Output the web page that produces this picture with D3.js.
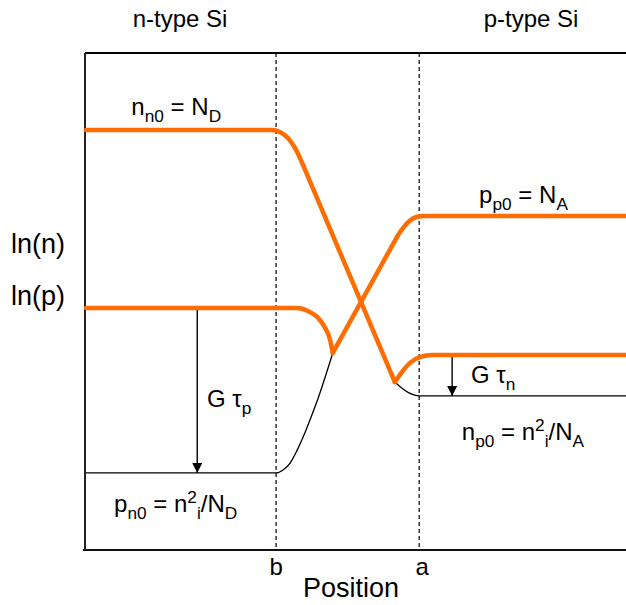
<!DOCTYPE html>
<html>
<head>
<meta charset="utf-8">
<script src="https://cdn.jsdelivr.net/npm/d3@7"></script>
<style>
  html, body { margin: 0; padding: 0; background: #fff; }
  svg { display: block; font-family: "Liberation Sans", Arial, sans-serif; }
</style>
</head>
<body>
<svg id="chart" width="626" height="605"></svg>
<script>
// ---- Data (abstract units: position 0..10, ln(concentration) 0..20) ----
const junctionB = 3.52;   // depletion edge on n-side
const junctionA = 6.17;   // depletion edge on p-side
const xEnd = 10;

// electrons n(x) under generation (orange)
const nCorner = [[0,16.90],[3.44,16.90],[3.59,16.82],[3.74,16.58],[3.89,16.10],[4.02,15.49]];
const nFall   = [[4.02,15.49],[5.72,6.76]];
const nRise   = [[5.72,6.76],[5.85,7.16],[6.00,7.53],[6.19,7.77],[6.41,7.85],[10,7.85]];
// electrons in equilibrium on p side (black)
const nEquil  = [[5.72,6.76],[5.87,6.48],[6.02,6.28],[6.17,6.20],[10,6.20]];

// holes p(x) under generation (orange)
const pLeft   = [[0,9.74],[3.91,9.74],[4.11,9.62],[4.28,9.38],[4.41,9.01],[4.52,8.45],[4.57,7.93]];
const pRiseLine = [[4.57,7.93],[5.76,12.60]];
const pTop    = [[5.76,12.60],[5.88,12.98],[6.00,13.26],[6.12,13.40],[6.25,13.44],[10,13.44]];
// holes in equilibrium on n side (black)
const pEquil  = [[0,3.10],[3.52,3.10],[3.65,3.22],[3.78,3.50],[3.91,4.02],[4.06,4.75],[4.19,5.47],[4.30,6.12],[4.57,7.93]];

// generation arrows: [x, from, to]
const genArrows = [[2.06,9.74,3.10],[6.78,7.85,6.20]];

// ---- Scales ----
const svg = d3.select("#chart");
const x = d3.scaleLinear().domain([0, xEnd]).range([86, 626]);
const y = d3.scaleLinear().domain([0, 20]).range([550, 53]);

const line = d3.line().x(d => x(d[0])).y(d => y(d[1])).curve(d3.curveMonotoneX);

const ORANGE = "#ff6c00";

// frame
svg.append("line").attr("x1", x(0)-1).attr("x2", 626).attr("y1", y(20)).attr("y2", y(20))
  .attr("stroke", "#000").attr("stroke-width", 2);
svg.append("line").attr("x1", x(0)-3).attr("x2", 626).attr("y1", y(0)).attr("y2", y(0))
  .attr("stroke", "#111").attr("stroke-width", 2);
svg.append("line").attr("x1", x(0)-1).attr("x2", x(0)-1).attr("y1", y(20)).attr("y2", y(0))
  .attr("stroke", "#222").attr("stroke-width", 2);

// dashed junction edges
[junctionB, junctionA].forEach(v => {
  svg.append("line").attr("x1", x(v)).attr("x2", x(v)).attr("y1", y(20)).attr("y2", y(0))
    .attr("stroke", "#000").attr("stroke-width", 1.2).attr("stroke-dasharray", "4,3");
});

// equilibrium (black thin) curves
[nEquil, pEquil].forEach(pts => {
  svg.append("path").attr("d", line(pts)).attr("fill", "none")
    .attr("stroke", "#000").attr("stroke-width", 1.3);
});

// arrows
const defs = svg.append("defs");
defs.append("marker").attr("id", "head").attr("viewBox", "0 0 10 10")
  .attr("refX", 10).attr("refY", 5).attr("markerWidth", 10).attr("markerHeight", 10)
  .attr("markerUnits", "userSpaceOnUse").attr("orient", "auto")
  .append("path").attr("d", "M0,0 L10,5 L0,10 Z").attr("fill", "#000");
genArrows.forEach(a => {
  svg.append("line").attr("x1", x(a[0])).attr("x2", x(a[0]))
    .attr("y1", y(a[1])).attr("y2", y(a[2]))
    .attr("stroke", "#000").attr("stroke-width", 1.4).attr("marker-end", "url(#head)");
});

// orange curves
[nCorner, nFall, nRise, pLeft, pRiseLine, pTop].forEach(pts => {
  svg.append("path").attr("d", line(pts)).attr("fill", "none")
    .attr("stroke", ORANGE).attr("stroke-width", 4.5)
    .attr("stroke-linecap", "round").attr("stroke-linejoin", "round");
});

// ---- Text ----
function label(px, py, parts, size, anchor) {
  const t = svg.append("text").attr("x", px).attr("y", py)
    .attr("font-size", size).attr("fill", "#000").attr("text-anchor", anchor || "start");
  parts.forEach(p => {
    const ts = t.append("tspan").text(p.t);
    if (p.sub) { ts.attr("font-size", size*0.72).attr("dy", size*0.28); }
    else if (p.sup) { ts.attr("font-size", size*0.72).attr("dy", -size*0.38); }
    if (p.back) ts.attr("dy", p.back);
  });
  return t;
}
const fs = 24;
label(180, 27, [{t:"n-type Si"}], fs, "middle");
label(531, 27, [{t:"p-type Si"}], fs, "middle");
label(11, 253, [{t:"ln(n)"}], 27);
label(11, 305, [{t:"ln(p)"}], 27);

label(x(0.84), y(17.5), [{t:"n"},{t:"n0",sub:true},{t:" = N", back: -fs*0.28},{t:"D",sub:true}], fs);
label(x(7.28), y(13.96), [{t:"p"},{t:"p0",sub:true},{t:" = N", back: -fs*0.28},{t:"A",sub:true}], fs);
label(x(2.24), y(5.75), [{t:"G τ"},{t:"p",sub:true}], fs);
label(x(7.13), y(6.72), [{t:"G τ"},{t:"n",sub:true}], fs);
label(x(0.52), y(1.53), [{t:"p"},{t:"n0",sub:true},{t:" = n", back: -fs*0.28},{t:"2",sup:true},{t:"i", sub:true, back: fs*0.66},{t:"/N", back: -fs*0.28},{t:"D",sub:true}], fs);
label(x(6.96), y(4.43), [{t:"n"},{t:"p0",sub:true},{t:" = n", back: -fs*0.28},{t:"2",sup:true},{t:"i", sub:true, back: fs*0.66},{t:"/N", back: -fs*0.28},{t:"A",sub:true}], fs);

label(x(junctionB), 575, [{t:"b"}], fs, "middle");
label(x(junctionA)+3, 575, [{t:"a"}], fs, "middle");
label(351, 597, [{t:"Position"}], 27, "middle");
</script>
</body>
</html>
